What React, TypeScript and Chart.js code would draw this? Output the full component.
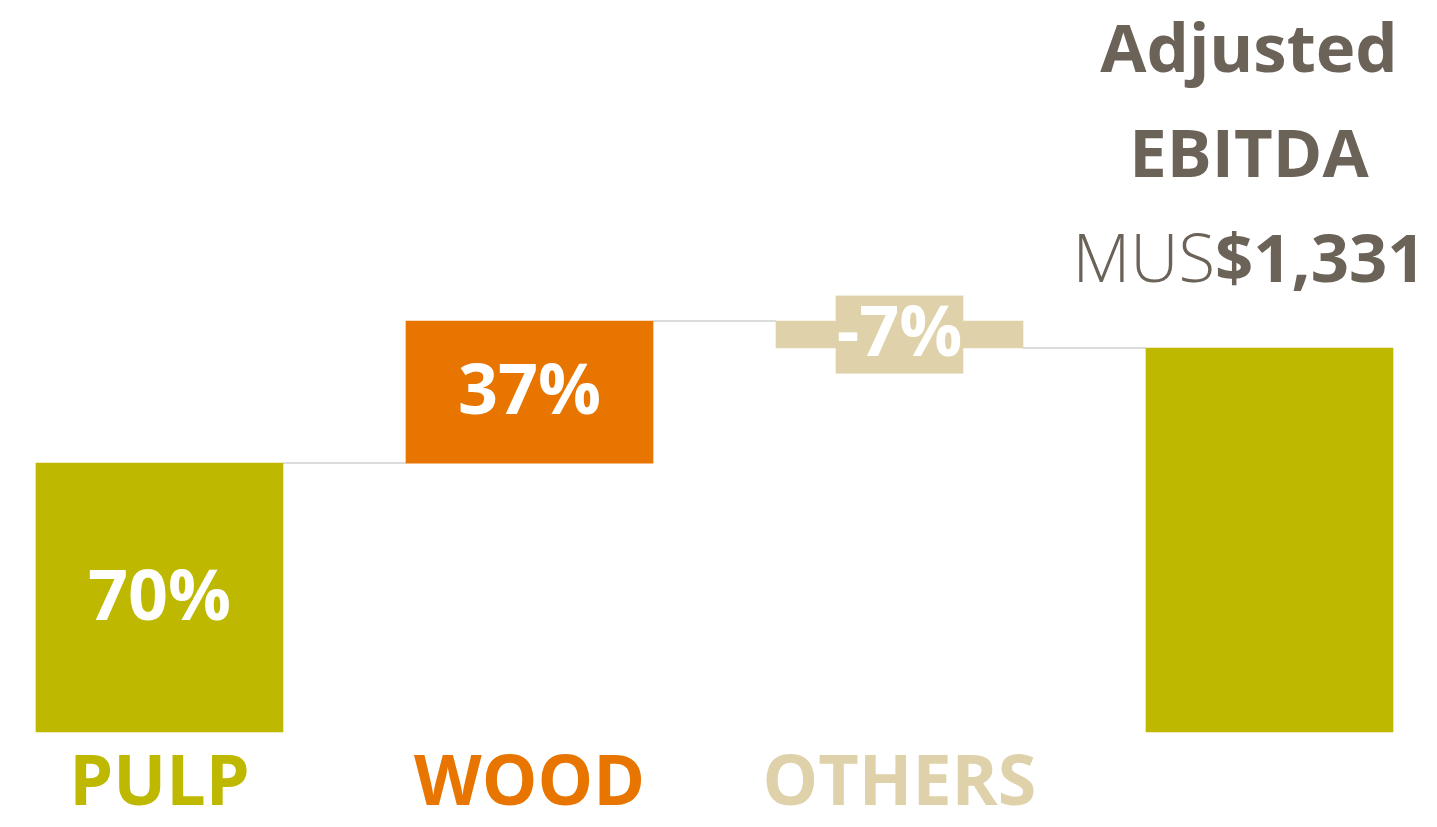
import React, { useEffect, useRef } from 'react';
import { Chart, registerables } from 'chart.js';

Chart.register(...registerables);

const categories = ['PULP', 'WOOD', 'OTHERS', ''];
const contributions = [70, 37, -7];
const totalValue = 100;
const valueLabels = ['70%', '37%', '-7%', ''];
const barColors = ['#BEB800', '#E87500', '#DFD2AA', '#BEB800'];
const categoryColors = ['#BEB800', '#E87500', '#DFD2AA', '#BEB800'];
const titleLines = ['Adjusted', 'EBITDA'];
const titlePrefix = 'MUS';
const titleAmount = '$1,331';

const FONT = '"Open Sans", "DejaVu Sans", sans-serif';
const TITLE_COLOR = '#6B6258';

export default function App() {
  const canvasRef = useRef<HTMLCanvasElement | null>(null);

  useEffect(() => {
    const canvas = canvasRef.current;
    if (!canvas) return;

    const ranges: [number, number][] = [];
    const ends: number[] = [];
    let cum = 0;
    contributions.forEach((c) => {
      ranges.push([cum, cum + c]);
      cum += c;
      ends.push(cum);
    });
    ranges.push([0, totalValue]);

    const connectorPlugin = {
      id: 'connectors',
      beforeDatasetsDraw(chart: any) {
        const meta = chart.getDatasetMeta(0);
        const y = chart.scales.y;
        const ctx = chart.ctx;
        ctx.save();
        ctx.strokeStyle = '#DCDCDC';
        ctx.lineWidth = 2;
        for (let i = 0; i < meta.data.length - 1; i++) {
          const a = meta.data[i];
          const b = meta.data[i + 1];
          const py = Math.round(y.getPixelForValue(ends[i]));
          ctx.beginPath();
          ctx.moveTo(a.x + a.width / 2, py);
          ctx.lineTo(b.x - b.width / 2, py);
          ctx.stroke();
        }
        ctx.restore();
      },
    };

    const valueLabelPlugin = {
      id: 'valueLabels',
      afterDatasetsDraw(chart: any) {
        const meta = chart.getDatasetMeta(0);
        const ctx = chart.ctx;
        ctx.save();
        ctx.font = `700 70px ${FONT}`;
        ctx.textAlign = 'center';
        ctx.textBaseline = 'middle';
        meta.data.forEach((bar: any, i: number) => {
          const label = valueLabels[i];
          if (!label) return;
          const cx = bar.x;
          const cy = (bar.y + bar.base) / 2;
          if (contributions[i] !== undefined && contributions[i] < 0) {
            const w = ctx.measureText(label).width + 2;
            ctx.fillStyle = barColors[i];
            ctx.fillRect(cx - w / 2, cy - 39, w, 78);
          }
          ctx.fillStyle = '#FFFFFF';
          ctx.fillText(label, cx, cy + 2);
        });
        ctx.restore();
      },
    };

    const titlePlugin = {
      id: 'titleBlock',
      afterDraw(chart: any) {
        const ctx = chart.ctx;
        const cx = 1249;
        const size = 67;
        ctx.save();
        ctx.fillStyle = TITLE_COLOR;
        ctx.textBaseline = 'alphabetic';
        ctx.textAlign = 'center';
        ctx.font = `700 ${size}px ${FONT}`;
        ctx.fillText(titleLines[0], cx, 72);
        ctx.fillText(titleLines[1], cx, 177);
        ctx.textAlign = 'left';
        ctx.font = `300 ${size}px ${FONT}`;
        const w1 = ctx.measureText(titlePrefix).width;
        ctx.font = `700 ${size}px ${FONT}`;
        const w2 = ctx.measureText(titleAmount).width;
        const start = cx - (w1 + w2) / 2;
        ctx.font = `300 ${size}px ${FONT}`;
        ctx.fillText(titlePrefix, start, 282);
        ctx.font = `700 ${size}px ${FONT}`;
        ctx.fillText(titleAmount, start + w1, 282);
        ctx.restore();
      },
    };

    const chart = new Chart(canvas, {
      type: 'bar',
      data: {
        labels: categories,
        datasets: [
          {
            data: ranges as any,
            backgroundColor: barColors,
            borderWidth: 0,
            borderSkipped: false,
            barThickness: 247,
            clip: false as any,
          },
        ],
      },
      options: {
        responsive: false,
        animation: false,
        layout: { padding: { left: 159.5, right: 167.5, top: 156, bottom: 0 } },
        plugins: {
          legend: { display: false },
          tooltip: { enabled: false },
          title: { display: false },
        },
        scales: {
          x: {
            type: 'category',
            offset: false,
            grid: { display: false, drawTicks: false },
            border: { display: false },
            afterFit: (scale: any) => {
              scale.height = 95;
            },
            ticks: {
              autoSkip: false,
              maxRotation: 0,
              padding: 11,
              font: { family: FONT, size: 70, weight: 'bold', lineHeight: 1.2 },
              color: (ctx: any) => categoryColors[ctx.index] || '#000',
            },
          },
          y: {
            display: false,
            min: 0,
            max: 150,
          },
        },
      },
      plugins: [connectorPlugin, valueLabelPlugin, titlePlugin],
    });

    return () => chart.destroy();
  }, []);

  return (
    <div style={{ position: 'absolute', left: 0, top: 0, width: 1437, height: 827, background: '#fff' }}>
      <canvas ref={canvasRef} width={1437} height={827} style={{ display: 'block' }} />
    </div>
  );
}
